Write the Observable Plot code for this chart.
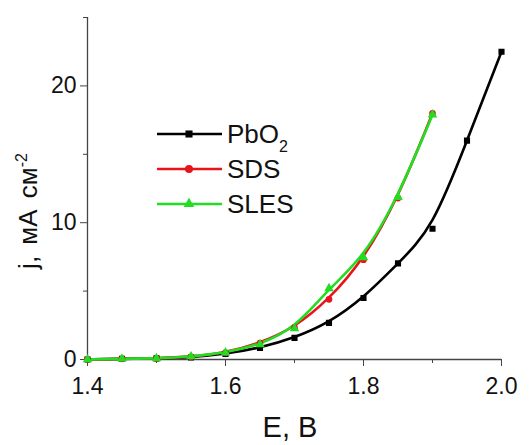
<!DOCTYPE html>
<html><head><meta charset="utf-8">
<script src="https://cdn.jsdelivr.net/npm/d3@7"></script>
<script src="https://cdn.jsdelivr.net/npm/@observablehq/plot@0.6"></script>
<style>
body{margin:0;background:#fff;font-family:"Liberation Sans",Arial,sans-serif;}
#wrap{position:relative;width:531px;height:445px;}
</style></head><body><div id="wrap"></div>
<script>
const potentials = [1.40,1.45,1.50,1.55,1.60,1.65,1.70,1.75,1.80,1.85,1.90,1.95,2.00];
const pbo2 = [0,0.05,0.08,0.15,0.4,0.85,1.58,2.68,4.5,7.03,9.56,16.0,22.5];
const sdsE = [1.40,1.45,1.50,1.55,1.60,1.65,1.70,1.75,1.80,1.85,1.90];
const sds  = [0,0.05,0.08,0.2,0.5,1.2,2.33,4.4,7.3,11.8,18.0];
const slesE = [1.40,1.45,1.50,1.55,1.60,1.65,1.70,1.75,1.80,1.85,1.90];
const sles = [0,0.05,0.08,0.22,0.5,1.1,2.26,5.2,7.45,11.87,17.9];
const series = ["PbO2","SDS","SLES"];
const colors = ["#000000","#e8141b","#22dd22"];
const symbols = ["square","circle","triangle"];
const xTicks = [1.4,1.6,1.8,2.0];
const xMinor = [1.5,1.7,1.9];
const yTicks = [0,10,20];
const yMinor = [5,15,25];

const rows = [];
potentials.forEach((e,i)=>rows.push({s:"PbO2",E:e,j:pbo2[i]}));
sdsE.forEach((e,i)=>rows.push({s:"SDS",E:e,j:sds[i]}));
slesE.forEach((e,i)=>rows.push({s:"SLES",E:e,j:sles[i]}));

const font = '"Liberation Sans",Arial,sans-serif';
const chart = Plot.plot({
  width:531, height:445,
  marginLeft:87, marginRight:30, marginTop:17, marginBottom:86,
  style:{fontFamily:font, background:"#fff"},
  x:{domain:[1.4,2.0]},
  y:{domain:[0,25]},
  color:{domain:series, range:colors},
  symbol:{domain:series, range:symbols},
  marks:[
    Plot.axisX({ticks:xTicks, tickFormat:d=>d.toFixed(1), tickSize:7, tickPadding:11, fontSize:23, label:null, stroke:"#444", color:"#111"}),
    Plot.axisX({ticks:xMinor, tickFormat:()=>"", tickSize:4, label:null, stroke:"#444"}),
    Plot.axisY({ticks:yTicks, tickSize:7, tickPadding:4, fontSize:23, label:null, stroke:"#444", color:"#111"}),
    Plot.axisY({ticks:yMinor, tickFormat:()=>"", tickSize:4, label:null, stroke:"#444"}),
    Plot.ruleX([1.4],{stroke:"#444", strokeWidth:1.3}),
    Plot.ruleY([0],{stroke:"#444", strokeWidth:1.3}),
    Plot.line(rows,{x:"E",y:"j",z:"s",stroke:"s",strokeWidth:2.6,curve:"basis"}),
    Plot.dot(rows,{x:"E",y:"j",fill:"s",stroke:"s",symbol:"s",r:2.6})
  ]
});
document.getElementById("wrap").appendChild(chart);

const svg = d3.select(chart);
// x label
svg.append("text").attr("x",290).attr("y",437).attr("text-anchor","middle")
  .attr("font-size",29).attr("font-family",font).attr("fill","#111").text("E, B");
// y label with superscript
const yl = svg.append("text").attr("transform","translate(37,211) rotate(-90)")
  .attr("text-anchor","middle").attr("font-size",26).attr("font-family",font)
  .attr("fill","#111").attr("word-spacing",4);
yl.append("tspan").text("j, мА см");
yl.append("tspan").attr("dy",-10).attr("font-size",16).text("-2");

// legend
const lg = svg.append("g");
const labels = [["PbO","2"],["SDS",null],["SLES",null]];
const sym = {square:d3.symbolSquare, circle:d3.symbolCircle, triangle:d3.symbolTriangle};
series.forEach((s,i)=>{
  const y = 134 + i*35;
  lg.append("line").attr("x1",157).attr("x2",222).attr("y1",y).attr("y2",y)
    .attr("stroke",colors[i]).attr("stroke-width",2.6);
  lg.append("path").attr("transform",`translate(189,${y})`)
    .attr("d",d3.symbol(sym[symbols[i]],50)()).attr("fill",colors[i]);
  const t = lg.append("text").attr("x",227).attr("y",y+9).attr("font-size",26)
    .attr("text-anchor","start").attr("font-family",font).attr("fill","#111");
  t.append("tspan").text(labels[i][0]);
  if(labels[i][1]) t.append("tspan").attr("dy",9).attr("font-size",16).text(labels[i][1]);
});
</script></body></html>
